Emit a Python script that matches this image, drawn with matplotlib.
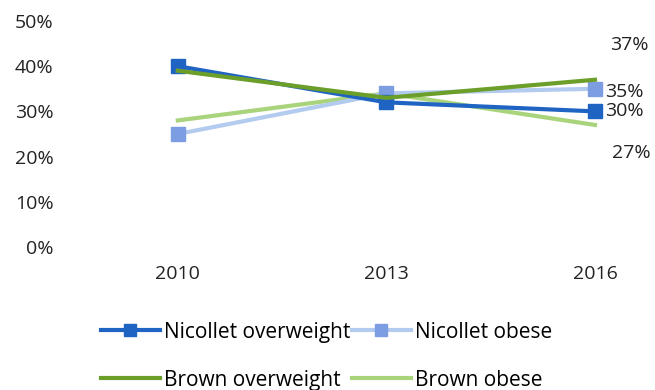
import matplotlib.pyplot as plt
from matplotlib.ticker import FuncFormatter

plt.rcParams['font.family'] = ['Open Sans', 'DejaVu Sans']

years = ['2010', '2013', '2016']
nicollet_overweight = [40, 32, 30]
nicollet_obese = [25, 34, 35]
brown_overweight = [39, 33, 37]
brown_obese = [28, 34, 27]

# end labels: (value, x offset, y offset) in points
end_labels = [
    (brown_overweight[-1], 11, 25),
    (nicollet_obese[-1], 7, -2),
    (nicollet_overweight[-1], 7, 0),
    (brown_obese[-1], 12, -20),
]

fig = plt.figure(figsize=(6.55, 3.9), dpi=100)
ax = fig.add_axes([0.160, 0.3667, 0.812, 0.5795])

x = range(len(years))
ax.plot(x, brown_obese, color='#a9d47c', lw=3, label='Brown obese', zorder=2)
ax.plot(x, nicollet_obese, color='#b3cbef', lw=3, marker='s', ms=10,
        mfc='#7d9de3', mec='#7d9de3', label='Nicollet obese', zorder=3)
ax.plot(x, brown_overweight, color='#6c9e2a', lw=3, label='Brown overweight', zorder=4)
ax.plot(x, nicollet_overweight, color='#1f63c3', lw=3, marker='s', ms=10,
        mfc='#1f63c3', mec='#1f63c3', label='Nicollet overweight', zorder=3.5)

for val, dx, dy in end_labels:
    ax.annotate(f'{val}%', (x[-1], val), xytext=(dx, dy), textcoords='offset points',
                ha='left', va='center', fontsize=14, color='#222222')

ax.set_ylim(0, 50)
ax.set_xlim(-0.35, 2.2)
ax.set_yticks([0, 10, 20, 30, 40, 50])
ax.yaxis.set_major_formatter(FuncFormatter(lambda v, p: f'{v:.0f}%'))
ax.set_xticks(list(x))
ax.set_xticklabels(years)
ax.tick_params(length=0, labelsize=14, colors='#222222')
ax.tick_params(axis='x', pad=13)
ax.tick_params(axis='y', pad=37)
for s in ax.spines.values():
    s.set_visible(False)

h, l = ax.get_legend_handles_labels()
order = [l.index(n) for n in ['Nicollet overweight', 'Brown overweight',
                               'Nicollet obese', 'Brown obese']]
fig.legend([h[i] for i in order], [l[i] for i in order], ncol=2,
           loc='lower left', bbox_to_anchor=(0.126, -0.05), frameon=False,
           fontsize=15, handlelength=2.8, handletextpad=0.2,
           columnspacing=0.1, labelspacing=1.3, markerscale=0.9)

fig.savefig('out.png', dpi=100)
